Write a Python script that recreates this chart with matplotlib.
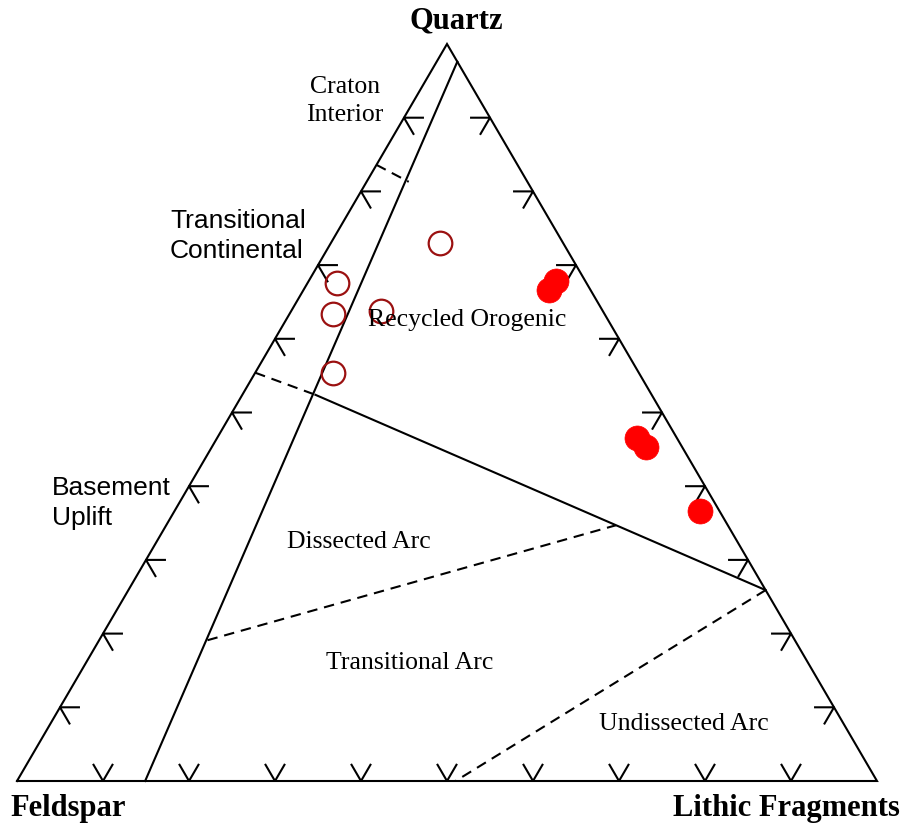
import numpy as np
import matplotlib
matplotlib.use("Agg")
import matplotlib.pyplot as plt

# QFL sandstone composition (fractions of Q, F, L)
open_q = [0.730, 0.676, 0.634, 0.638, 0.554]
open_f = [0.143, 0.290, 0.316, 0.258, 0.356]
open_l = [0.127, 0.034, 0.050, 0.104, 0.090]

fill_q = [0.678, 0.666, 0.465, 0.453, 0.366]
fill_f = [0.034, 0.048, 0.047, 0.042, 0.023]
fill_l = [0.288, 0.286, 0.488, 0.505, 0.611]

# provenance field boundaries, (Q, F, L) end points
solid_lines = [
    [(0.976, 0.000, 0.024), (0.000, 0.851, 0.149)],   # continental block
    [(0.524, 0.391, 0.085), (0.259, 0.000, 0.741)],   # recycled orogen
]
dashed_lines = [
    [(0.836, 0.164, 0.000), (0.813, 0.138, 0.049)],   # craton interior
    [(0.554, 0.446, 0.000), (0.524, 0.391, 0.085)],   # basement uplift
    [(0.191, 0.683, 0.126), (0.347, 0.130, 0.523)],   # dissected arc
    [(0.259, 0.000, 0.741), (0.000, 0.490, 0.510)],   # undissected arc
]

tick_vals = np.arange(0.1, 0.95, 0.1)

H = np.sqrt(3) / 2


def tern(q, f, l):
    q = np.asarray(q, dtype=float)
    l = np.asarray(l, dtype=float)
    return l + q / 2, q * H


W, HT = 904, 830
fig = plt.figure(figsize=(W / 100, HT / 100), dpi=100)
ax = fig.add_axes([0, 0, 1, 1])
# triangle corners sit at pixels F(17,781), L(877,781), Q(449,44)
ax.set_xlim(-17 / 860, (W - 17) / 860)
ax.set_ylim((781 - HT) / 737 * H, 781 / 737 * H)
ax.axis("off")

lw = 1.5
# outline
ox, oy = tern([0, 0, 1, 0], [1, 0, 0, 1], [0, 1, 0, 0])
ax.plot(ox, oy, color="black", lw=lw, solid_joinstyle="miter")

for a, b in solid_lines:
    x, y = tern([a[0], b[0]], [a[1], b[1]], [a[2], b[2]])
    ax.plot(x, y, color="black", lw=lw)
for a, b in dashed_lines:
    x, y = tern([a[0], b[0]], [a[1], b[1]], [a[2], b[2]])
    ax.plot(x, y, color="black", lw=lw, dashes=(5, 3.3))

# tick stubs: two short arms along the grid directions
s = 0.022
for t in tick_vals:
    # Q-F edge
    x0, y0 = tern(t, 1 - t, 0)
    ax.plot([x0 + s, x0, x0 + s * 0.5], [y0, y0, y0 - s * H], color="black", lw=lw)
    # Q-L edge
    x0, y0 = tern(t, 0, 1 - t)
    ax.plot([x0 - s, x0, x0 - s * 0.5], [y0, y0, y0 - s * H], color="black", lw=lw)
    # F-L edge
    x0, y0 = tern(0, 1 - t, t)
    ax.plot([x0 - s * 0.5, x0, x0 + s * 0.5], [y0 + s * H, y0, y0 + s * H],
            color="black", lw=lw)

# samples
x, y = tern(open_q, open_f, open_l)
ax.plot(x, y, "o", ms=17, mfc="none", mec="#9b1111", mew=1.6, ls="none")
x, y = tern(fill_q, fill_f, fill_l)
ax.plot(x, y, "o", ms=18, mfc="#ff0000", mec="#ff0000", mew=0.5, ls="none")


def ptext(px, py, s, **kw):
    fig.text(px / W, 1 - py / HT, s, **kw)


serif = "Liberation Serif"
sans = "Liberation Sans"
ptext(456, 21, "Quartz", family=serif, weight="bold", size=22, ha="center", va="center")
ptext(68, 808, "Feldspar", family=serif, weight="bold", size=22, ha="center", va="center")
ptext(786, 808, "Lithic Fragments", family=serif, weight="bold", size=22,
      ha="center", va="center")

ptext(345, 101, "Craton\nInterior", family=serif, size=18.5, ha="center", va="center",
      linespacing=1.35)
ptext(467, 320, "Recycled Orogenic", family=serif, size=18.5, ha="center", va="center")
ptext(359, 542, "Dissected Arc", family=serif, size=18.5, ha="center", va="center")
ptext(410, 663, "Transitional Arc", family=serif, size=18.5, ha="center", va="center")
ptext(684, 724, "Undissected Arc", family=serif, size=18.5, ha="center", va="center")

ptext(170, 236, "Transitional\nContinental", family=sans, size=19, ha="left",
      va="center", linespacing=1.3)
ptext(52, 503, "Basement\nUplift", family=sans, size=19, ha="left", va="center",
      linespacing=1.3)

fig.savefig("out.png", dpi=100)
